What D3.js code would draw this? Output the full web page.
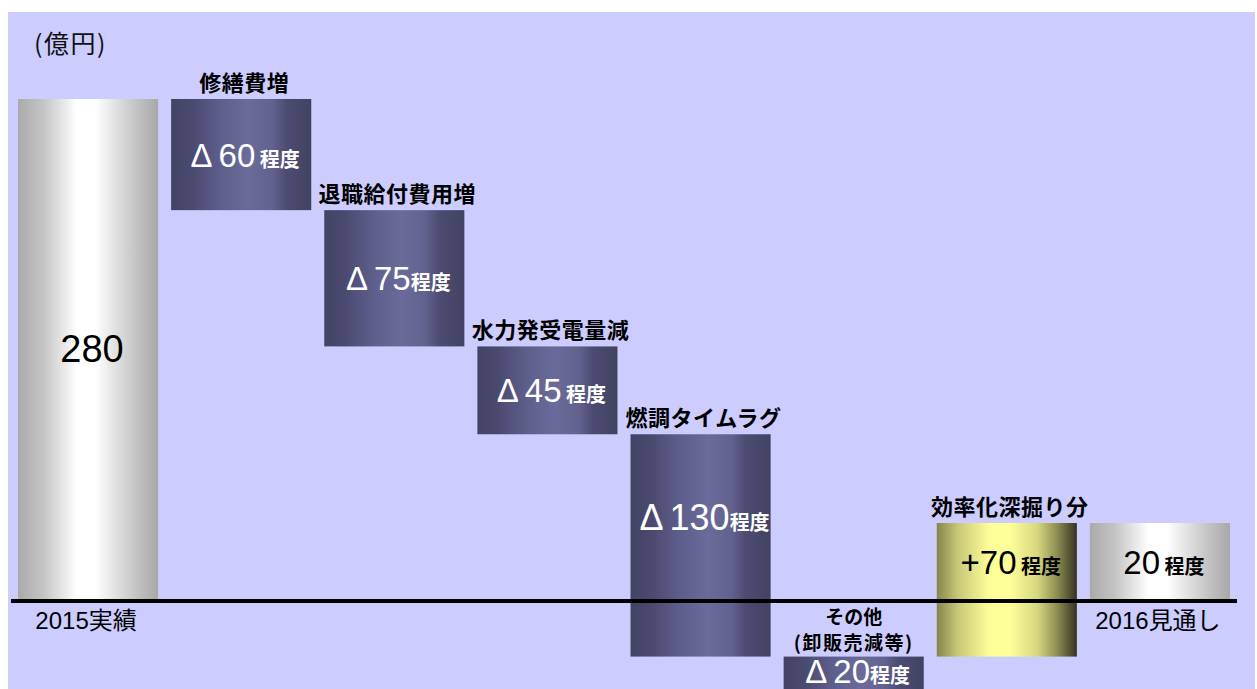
<!DOCTYPE html>
<html><head><meta charset="utf-8">
<script src="https://cdn.jsdelivr.net/npm/d3@7"></script>
<style>
html,body{margin:0;padding:0;background:#fff;}
svg{display:block;}
text{white-space:pre;}
</style></head>
<body>
<svg id="chart" width="1257" height="689"></svg>
<script>
// ---- data ----
const categories = ["2015実績","修繕費増","退職給付費用増","水力発受電量減","燃調タイムラグ","その他","効率化深掘り分","2016見通し"];
const kinds      = ["total","dec","dec","dec","dec","dec","inc","total"];
// drawn levels of each bar (億円, as drawn in the picture)
const barStart   = [0, 280, 218, 142, 93, -31, -31, 0];
const barEnd     = [280, 218, 142, 93, -31, -52, 43.5, 43.5];
// value labels
const valueText  = ["280","60","75","45","130","20","70","20"];
const valuePrefix= ["","Δ","Δ","Δ","Δ","Δ","+",""];
const unitText   = [""," 程度","程度"," 程度","程度","程度"," 程度"," 程度"];
const subLabel   = ["","","","","","(卸販売減等)","",""];
const unitLabel  = "(億円)";

const W = 1257, H = 689;
const svg = d3.select("#chart");
const CJK = "'Noto Sans CJK JP', sans-serif";
const LAT = "'Liberation Sans', 'Noto Sans CJK JP', sans-serif";

const defs = svg.append("defs");
function grad(id, stops){
  const g = defs.append("linearGradient").attr("id", id).attr("x1","0%").attr("x2","100%").attr("y1","0%").attr("y2","0%");
  stops.forEach(s => g.append("stop").attr("offset", s[0]).attr("stop-color", s[1]));
}
grad("gTotal", [["0%","#aaaaaa"],["18%","#c4c4c4"],["42%","#ffffff"],["55%","#ffffff"],["82%","#c8c8c8"],["100%","#a8a8a8"]]);
grad("gDec",   [["0%","#434364"],["15%","#4a4a70"],["35%","#5e5e8c"],["55%","#6b6b9b"],["72%","#62628f"],["82%","#4c4c73"],["100%","#424262"]]);
grad("gInc",   [["0%","#85854c"],["15%","#c8c878"],["38%","#ffff99"],["52%","#ffff99"],["72%","#d6d680"],["86%","#8c8c52"],["100%","#333320"]]);
const fillFor = {total:"url(#gTotal)", dec:"url(#gDec)", inc:"url(#gInc)"};

// background
svg.append("rect").attr("x",8).attr("y",12).attr("width",1247).attr("height",H-12).attr("fill","#ccccff");

const x = d3.scaleBand().domain(categories).range([18, 1230]).paddingInner(0.085).paddingOuter(0);
const y = d3.scaleLinear().domain([0, 280]).range([601, 99]);

const data = categories.map((c,i)=>({c, i, kind:kinds[i], s:barStart[i], e:barEnd[i]}));

// bars
svg.append("g").selectAll("rect").data(data).join("rect")
  .attr("x", d => x(d.c))
  .attr("width", x.bandwidth())
  .attr("y", d => y(Math.max(d.s, d.e)))
  .attr("height", d => Math.abs(y(d.s) - y(d.e)))
  .attr("fill", d => fillFor[d.kind]);

// zero line
svg.append("line").attr("x1", 11).attr("x2", 1237).attr("y1", y(0)).attr("y2", y(0))
  .attr("stroke","#000").attr("stroke-width",4);

// unit label
svg.append("text").attr("x", 34).attr("y", 53).attr("font-family", CJK).attr("font-size", 25)
  .attr("letter-spacing", 1.5).attr("fill","#111").text(unitLabel);

// category labels
data.forEach(d => {
  const cx = x(d.c) + x.bandwidth()/2;
  if (d.kind === "total") {
    svg.append("text").attr("x", cx - 2).attr("y", 629).attr("text-anchor","middle")
      .attr("font-family", LAT).attr("font-size", 24).attr("fill","#000")
      .text(d.c);
  } else if (subLabel[d.i]) {
    svg.append("text").attr("x", cx).attr("y", 624).attr("text-anchor","middle")
      .attr("font-family", CJK).attr("font-weight","bold").attr("font-size", 19).attr("fill","#000").text(d.c);
    svg.append("text").attr("x", cx).attr("y", 650).attr("text-anchor","middle")
      .attr("font-family", CJK).attr("font-weight","bold").attr("font-size", 19).attr("letter-spacing",1.5).attr("fill","#000").text(subLabel[d.i]);
  } else {
    const top = y(Math.max(d.s, d.e));
    svg.append("text").attr("x", cx + 3).attr("y", top - 8).attr("text-anchor","middle")
      .attr("font-family", CJK).attr("font-weight","bold").attr("font-size", 22).attr("letter-spacing", 0.5)
      .attr("fill","#000").text(d.c);
  }
});

// value labels
data.forEach(d => {
  const cx = x(d.c) + x.bandwidth()/2;
  const top = y(Math.max(d.s, d.e)), bot = y(Math.min(d.s, d.e));
  const visBot = Math.min(bot, y(0));
  let by;
  if (top >= y(0)) by = top + 26;              // bar entirely below axis
  else by = (top + visBot)/2 + 12;
  const dark = d.kind === "dec";
  const col = dark ? "#ffffff" : "#000000";
  const big = d.i === 0 ? 38 : (d.i === 4 ? 36 : 33);
  const t = svg.append("text").attr("x", cx + 4).attr("y", by).attr("text-anchor","middle").attr("fill", col);
  if (valuePrefix[d.i]) {
    t.append("tspan").attr("font-family", LAT).attr("font-size", big).text(valuePrefix[d.i]);
  }
  t.append("tspan").attr("font-family", d.i === 0 ? "'Liberation Sans Narrow', 'Liberation Sans', sans-serif" : LAT)
    .attr("dx", valuePrefix[d.i] === "Δ" ? 6 : 0)
    .attr("font-size", big).text(valueText[d.i]);
  if (unitText[d.i]) {
    t.append("tspan").attr("font-family", CJK).attr("font-weight","bold").attr("font-size", 20).text(unitText[d.i]);
  }
});
</script>
</body></html>
